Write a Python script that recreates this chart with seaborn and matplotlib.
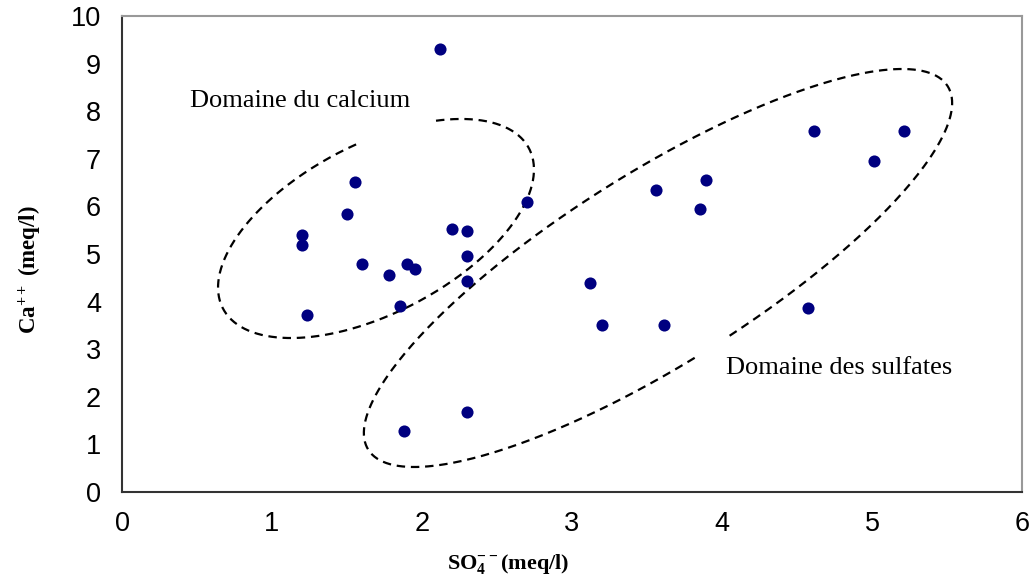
import numpy as np
import matplotlib
matplotlib.use("Agg")
import matplotlib.pyplot as plt
import seaborn as sns

# Sulfate vs calcium concentrations (meq/l) for each sample
so4 = [2.12, 1.20, 1.20, 1.55, 1.50, 1.60, 1.23, 1.78, 1.90, 1.95, 1.85, 2.20, 2.30, 2.30,
       2.30, 2.70, 3.12, 3.20, 3.61, 3.56, 3.85, 3.89, 4.61, 5.21, 5.01, 4.57, 1.88, 2.30]
ca = [9.31, 5.40, 5.19, 6.51, 5.84, 4.79, 3.72, 4.56, 4.79, 4.68, 3.91, 5.53, 5.48, 4.96,
      4.43, 6.09, 4.39, 3.51, 3.51, 6.34, 5.95, 6.55, 7.58, 7.58, 6.95, 3.87, 1.28, 1.68]

x_ticks = [0, 1, 2, 3, 4, 5, 6]
y_ticks = [0, 1, 2, 3, 4, 5, 6, 7, 8, 9, 10]

sns.set_style("white")
plt.rcParams["font.family"] = ["Liberation Sans", "DejaVu Sans"]
plt.rcParams["text.color"] = "black"
plt.rcParams["mathtext.fontset"] = "custom"
plt.rcParams["mathtext.rm"] = "Liberation Serif:bold"
plt.rcParams["mathtext.bf"] = "Liberation Serif:bold"
plt.rcParams["mathtext.it"] = "Liberation Serif:bold"

W, H = 1034, 582
fig = plt.figure(figsize=(W / 100, H / 100), dpi=100)
ax = fig.add_axes([122 / W, 1 - 492 / H, 900 / W, 476 / H])

sns.scatterplot(x=so4, y=ca, ax=ax, color="#000080", s=76, linewidth=0, zorder=3)

ax.set_xlim(0, 6)
ax.set_ylim(0, 10)
ax.set_xticks(x_ticks)
ax.set_yticks(y_ticks)
ax.tick_params(axis="both", direction="out", length=7, width=1.2, color="#333333",
               labelsize=19.5, labelcolor="black")
ax.tick_params(axis="x", pad=7)
ax.tick_params(axis="y", pad=8)
for side in ("left", "bottom"):
    ax.spines[side].set_color("#333333")
    ax.spines[side].set_linewidth(1.5)
for side in ("top", "right"):
    ax.spines[side].set_color("#999999")
    ax.spines[side].set_linewidth(1.5)

serif = ["Liberation Serif", "DejaVu Serif"]
ax.set_xlabel(r"SO$^{--}_{4}$(meq/l)", family=serif, fontweight="bold", fontsize=16,
              color="black")
ax.set_ylabel(r"Ca$^{++}$ (meq/l)", family=serif, fontweight="bold", fontsize=16.5,
              color="black")
ax.xaxis.set_label_coords((508 - 122) / 900, -(552 - 492) / 476)
ax.yaxis.set_label_coords(-(122 - 44) / 900, (492 - 270) / 476)

ax.text(0.45, 8.22, "Domaine du calcium", family=serif, fontsize=19, ha="left",
        va="center", color="black")
ax.text(4.03, 2.6, "Domaine des sulfates", family=serif, fontsize=19, ha="left",
        va="center", color="black")


def dashed_domain(center, a, b, theta_deg, gap_from, gap_to):
    """Dashed elliptical outline drawn in figure pixels, open between two points."""
    cx, cy = center
    th = np.radians(theta_deg)

    def angle_of(p):
        u, v = p[0] - cx, -(p[1] - cy)
        pp = u * np.cos(th) + v * np.sin(th)
        qq = -u * np.sin(th) + v * np.cos(th)
        return np.arctan2(qq / b, pp / a)

    t0, t1 = angle_of(gap_from), angle_of(gap_to)
    if t1 < t0:
        t1 += 2 * np.pi
    # keep the longer of the two arcs between the gap ends
    if t1 - t0 > np.pi:
        t = np.linspace(t0, t1, 400)
    else:
        t = np.linspace(t1, t0 + 2 * np.pi, 400)
    u = a * np.cos(t) * np.cos(th) - b * np.sin(t) * np.sin(th)
    v = a * np.cos(t) * np.sin(th) + b * np.sin(t) * np.cos(th)
    px, py = cx + u, cy - v
    disp = np.column_stack([px, H - py])
    data = ax.transData.inverted().transform(disp)
    ax.plot(data[:, 0], data[:, 1], color="black", lw=1.6,
            linestyle=(0, (3.8, 2.6)), zorder=2)


dashed_domain((376, 228.5), 172.7, 84.4, 27.6, (356, 144), (433, 121))
dashed_domain((658, 268), 342, 95.7, 32.1, (732, 338), (701, 360))

fig.savefig("out.png", dpi=100)
